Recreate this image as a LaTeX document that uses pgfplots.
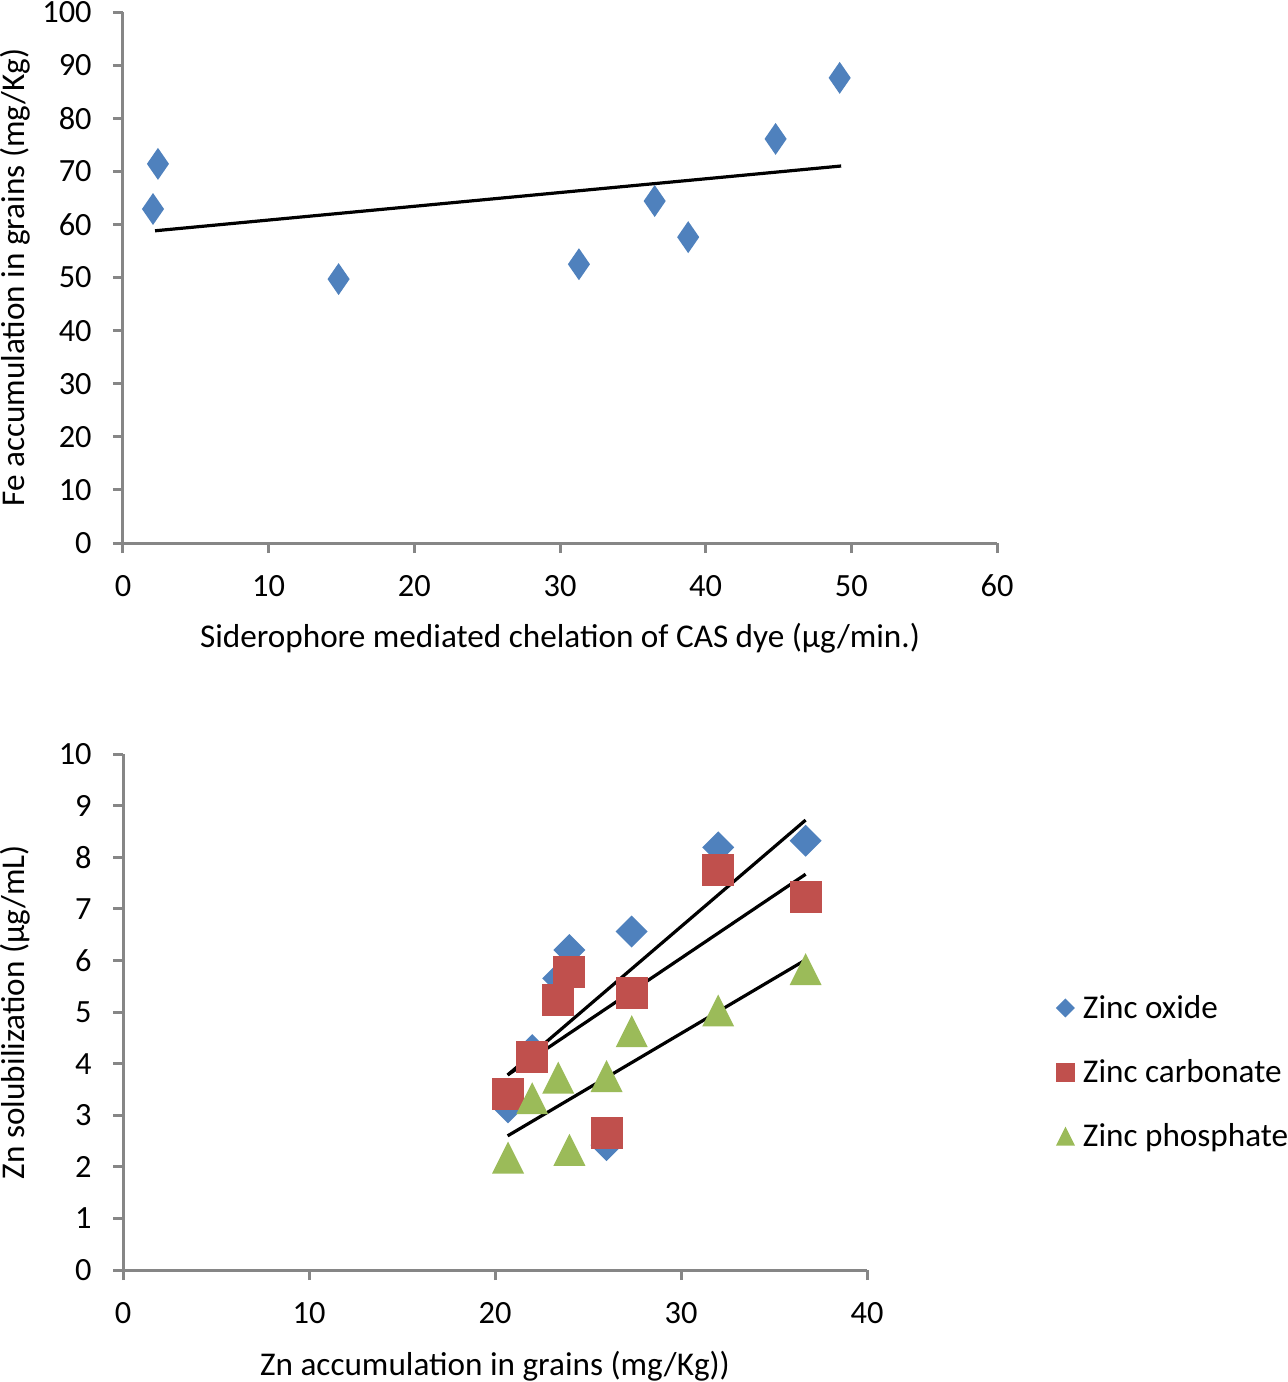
\documentclass[border=0pt]{standalone}
\usepackage{fontspec}
\setmainfont{Carlito}
\usepackage{pgfplots}
\pgfplotsset{compat=1.18}
\definecolor{xlblue}{HTML}{4F81BD}
\definecolor{xlred}{HTML}{C0504D}
\definecolor{xlgreen}{HTML}{9BBB59}
\definecolor{xlgray}{HTML}{868686}
\pgfdeclareplotmark{xldiatall}{%
  \pgfpathmoveto{\pgfqpoint{0pt}{\pgfplotmarksize}}%
  \pgfpathlineto{\pgfqpoint{.69\pgfplotmarksize}{0pt}}%
  \pgfpathlineto{\pgfqpoint{0pt}{-\pgfplotmarksize}}%
  \pgfpathlineto{\pgfqpoint{-.69\pgfplotmarksize}{0pt}}%
  \pgfpathclose\pgfusepathqfill}
\pgfdeclareplotmark{xldia}{%
  \pgfpathmoveto{\pgfqpoint{0pt}{\pgfplotmarksize}}%
  \pgfpathlineto{\pgfqpoint{\pgfplotmarksize}{0pt}}%
  \pgfpathlineto{\pgfqpoint{0pt}{-\pgfplotmarksize}}%
  \pgfpathlineto{\pgfqpoint{-\pgfplotmarksize}{0pt}}%
  \pgfpathclose\pgfusepathqfill}
\pgfdeclareplotmark{xlsq}{%
  \pgfpathrectangle{\pgfqpoint{-\pgfplotmarksize}{-\pgfplotmarksize}}{\pgfqpoint{2\pgfplotmarksize}{2\pgfplotmarksize}}%
  \pgfusepathqfill}
\pgfdeclareplotmark{xltri}{%
  \pgfpathmoveto{\pgfqpoint{0pt}{\pgfplotmarksize}}%
  \pgfpathlineto{\pgfqpoint{\pgfplotmarksize}{-\pgfplotmarksize}}%
  \pgfpathlineto{\pgfqpoint{-\pgfplotmarksize}{-\pgfplotmarksize}}%
  \pgfpathclose\pgfusepathqfill}
\pgfplotsset{
  xlaxis/.style={
    scale only axis,
    axis lines=left,
    axis line style={-, draw=xlgray, line width=1.5pt},
    tick style={draw=xlgray, line width=1.5pt},
    tick align=outside,
    major tick length=5pt,
    minor tick num=0,
    /pgf/number format/assume math mode=true,
    tick label style={font=\fontsize{16.2}{18}\selectfont, text=black, inner sep=0pt},
    xticklabel style={anchor=north},
    yticklabel style={anchor=east},
    xticklabel shift=10.8pt,
    yticklabel shift=10.5pt,
    label style={font=\fontsize{16.6}{19}\selectfont, text=black},
    clip=false,
  },
  trend/.style={black, line width=1.6pt, no marks},
}
\begin{document}
\begin{tikzpicture}
\begin{axis}[xlaxis,
  at={(61.5pt,-271.5pt)}, anchor=south west,
  width=437pt, height=265.5pt,
  xmin=0, xmax=60, ymin=0, ymax=100,
  xtick={0,10,...,60}, ytick={0,10,...,100},
  xlabel={Siderophore mediated chelation of CAS dye (µg/min.)},
  ylabel={Fe accumulation in grains (mg/Kg)},
  xlabel style={at={(axis description cs:0.5,-0.179)}, anchor=center},
  ylabel style={at={(axis description cs:-0.1236,0.5)}, anchor=center},
]
\addplot[only marks, mark=xldiatall, mark size=8pt, color=xlblue] coordinates {
  (2.06,62.9) (2.4,71.4) (14.8,49.7) (31.3,52.5) (36.5,64.4) (38.8,57.6) (44.8,76.1) (49.2,87.6)};
\addplot[trend] coordinates {(2.2,58.8) (49.3,71.0)};
\end{axis}

\begin{axis}[xlaxis,
  at={(61.5pt,-635pt)}, anchor=south west,
  width=372pt, height=258pt,
  xmin=0, xmax=40, ymin=0, ymax=10,
  xtick={0,10,...,40}, ytick={0,1,...,10},
  xlabel={Zn accumulation in grains (mg/Kg))},
  ylabel={Zn solubilization (µg/mL)},
  xlabel style={at={(axis description cs:0.5,-0.186)}, anchor=center},
  ylabel style={at={(axis description cs:-0.145,0.5)}, anchor=center},
  legend style={draw=none, fill=none, inner sep=0pt, outer sep=0pt,
    at={(axis description cs:1.254,0.3837)}, anchor=west,
    font=\fontsize{16.6}{19}\selectfont, row sep=15pt,
    /tikz/every odd column/.append style={column sep=2pt}},
  legend cell align=left,
  legend image code/.code={\draw[#1, mark size=4.75pt] plot coordinates {(0pt,0pt)};},
]
\addplot[only marks, mark=xldia, mark size=8pt, color=xlblue] coordinates {
  (20.7,3.15) (22.0,4.26) (23.4,5.65) (24.0,6.2) (26.0,2.42) (27.35,6.56) (32.0,8.19) (36.7,8.32)};
\addlegendentry{Zinc oxide}
\addplot[only marks, mark=xlsq, mark size=8pt, color=xlred] coordinates {
  (20.7,3.42) (22.0,4.12) (23.4,5.23) (24.0,5.78) (26.0,2.65) (27.35,5.36) (32.0,7.75) (36.7,7.22)};
\addlegendentry{Zinc carbonate}
\addplot[only marks, mark=xltri, mark size=8pt, color=xlgreen] coordinates {
  (20.7,2.18) (22.0,3.33) (23.4,3.73) (24.0,2.33) (26.0,3.76) (27.35,4.63) (32.0,5.03) (36.7,5.83)};
\addlegendentry{Zinc phosphate}
\addplot[trend, forget plot] coordinates {(20.68,3.78) (36.7,8.72)};
\addplot[trend, forget plot] coordinates {(20.68,3.78) (36.7,7.67)};
\addplot[trend, forget plot] coordinates {(20.68,2.6) (36.7,6.01)};
\end{axis}
\pgfresetboundingbox
\path[use as bounding box] (0pt,0pt) rectangle (643.5pt,-691pt);
\end{tikzpicture}
\end{document}
